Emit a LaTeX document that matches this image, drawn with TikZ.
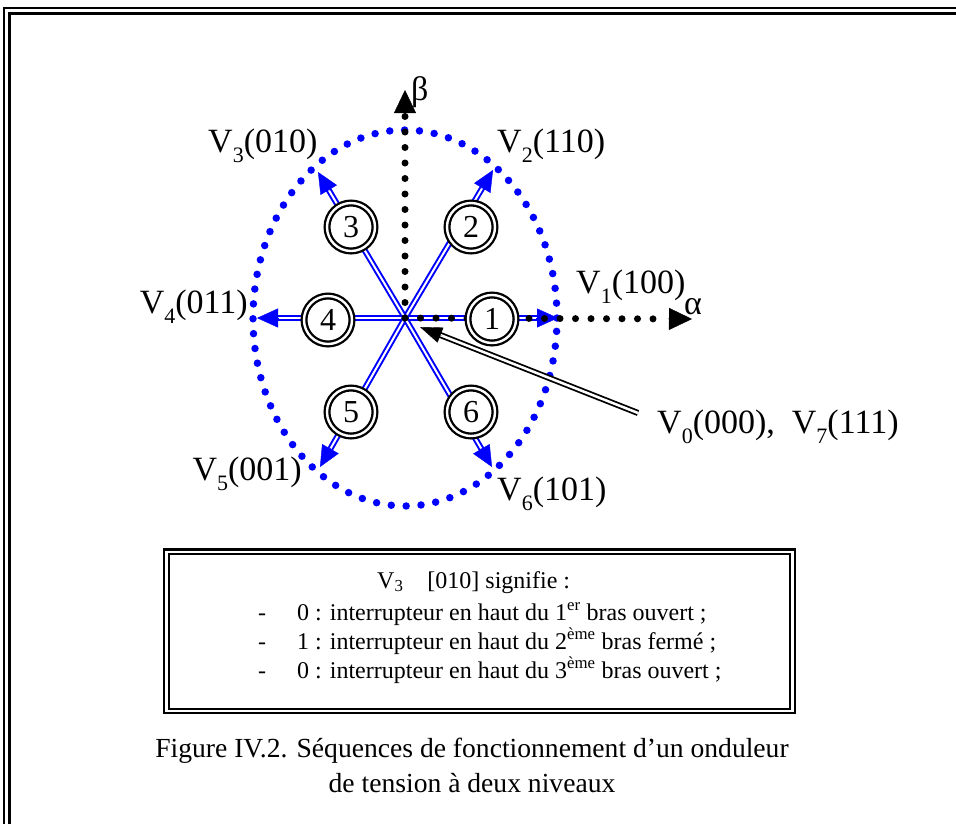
\documentclass[tikz,border=0pt]{standalone}
\usepackage{fontspec}
\setmainfont{Liberation Serif}
\usetikzlibrary{arrows.meta,calc}
\newcommand\vsub[1]{\raisebox{-0.32em}{\fontsize{22}{22}\selectfont #1}}
\begin{document}
\begin{tikzpicture}[x=1pt,y=-1pt,
  frameline/.style={line width=2.4pt, black},
  bdots/.style={blue, line width=7.5pt, line cap=round, dash pattern=on 0pt off 14.9pt},
  kdots/.style={black, line width=7pt, line cap=round, dash pattern=on 0pt off 15.5pt},
  bvec/.style={draw=blue, line width=2pt, double=white, double distance=2pt},
  kvec/.style={draw=black, line width=1.8pt, double=white, double distance=2.5pt},
  btip/.style={blue, line width=0.4pt, -{Triangle[length=21pt,width=19pt]}},
  ktip/.style={black, line width=0.4pt, -{Triangle[length=23pt,width=22pt]}},
  vtip/.style={black, line width=0.4pt, -{Triangle[length=22pt,width=16pt]}},
  numc/.style={circle, draw=black, line width=2.3pt, double=white, double distance=2.4pt, fill=white, minimum size=48pt, inner sep=0pt, font=\fontsize{32}{32}\selectfont},
  lab/.style={font=\fontsize{34}{34}\selectfont, inner sep=0pt},
  boxt/.style={font=\fontsize{24}{24}\selectfont, inner sep=0pt},
  capt/.style={font=\fontsize{27.6}{27.6}\selectfont, inner sep=0pt}
]
\useasboundingbox (0,0) rectangle (956,823);
\clip (0,0) rectangle (956,823);
% outer frame
\draw[frameline] (4,8) rectangle (1100,1000);
\draw[frameline] (9.5,13.5) rectangle (1090,990);
% coordinates
\coordinate (O) at (405,318);
\coordinate (t1) at (558,318);
\coordinate (t2) at (493,170);
\coordinate (t3) at (318,172);
\coordinate (t4) at (257,318);
\coordinate (t5) at (320,467);
\coordinate (t6) at (492,467);
\coordinate (atip) at (692,319);
\coordinate (btipc) at (405,90);
\coordinate (v0s) at (638,413);
\coordinate (v0t) at (420,327);
% ellipse
\draw[bdots] (O) ellipse [x radius=152pt, y radius=188pt];
% blue vectors
\foreach \t in {t1,t2,t3,t4,t5,t6}{
  \draw[bvec] (O) -- ($(\t)!17pt!(O)$);
  \draw[btip] ($(\t)!22pt!(O)$) -- (\t);
}
% axes
\draw[kdots] (O) -- ($(atip)!24pt!(O)$);
\draw[ktip] ($(atip)!24pt!(O)$) -- (atip);
\draw[kdots] (O) -- ($(btipc)!24pt!(O)$);
\draw[ktip] ($(btipc)!24pt!(O)$) -- (btipc);
% V0 arrow
\draw[kvec] (v0s) -- ($(v0t)!18pt!(v0s)$);
\draw[vtip] ($(v0t)!23pt!(v0s)$) -- (v0t);
% numbered circles
\node[numc] (c1) at (492,319) {1};
\node[numc] (c2) at (471,227) {2};
\node[numc] (c3) at (351,227) {3};
\node[numc] (c4) at (328,320) {4};
\node[numc] (c5) at (351,412) {5};
\node[numc] (c6) at (471,412) {6};
% labels
\node[lab, anchor=base west] (lb) at (411,100) {β};
\node[lab, anchor=base west] (la) at (684,314) {α};
\node[lab, anchor=base west] (l1) at (576,293) {V\vsub{1}(100)};
\node[lab, anchor=base west] (l2) at (497,152) {V\vsub{2}(110)};
\node[lab, anchor=base west] (l3) at (208,152) {V\vsub{3}(010)};
\node[lab, anchor=base east] (l4) at (248,313) {V\vsub{4}(011)};
\node[lab, anchor=base east] (l5) at (302,480) {V\vsub{5}(001)};
\node[lab, anchor=base west] (l6) at (497,500) {V\vsub{6}(101)};
\node[lab, anchor=base west] (l0) at (657,433) {V\vsub{0}(000), \ V\vsub{7}(111)};
% legend box
\draw[line width=2.6pt] (164,549.7) rectangle (795,712.9);
\draw[line width=2pt] (169,554.3) rectangle (790,708.5);
\node[boxt, anchor=base west] (b0) at (377,588) {V\textsubscript{3}\ \ \ \ [010] signifie :};
\node[boxt, anchor=base] (d1) at (262,620) {-};
\node[boxt, anchor=base west] (b1) at (297,620) {0 : interrupteur en haut du 1\textsuperscript{er} bras ouvert ;};
\node[boxt, anchor=base] (d2) at (262,649) {-};
\node[boxt, anchor=base west] (b2) at (297,649) {1 : interrupteur en haut du 2\textsuperscript{ème} bras fermé ;};
\node[boxt, anchor=base] (d3) at (262,678) {-};
\node[boxt, anchor=base west] (b3) at (297,678) {0 : interrupteur en haut du 3\textsuperscript{ème} bras ouvert ;};
% caption
\node[capt, anchor=base] (cap1) at (472,757) {Figure IV.2. Séquences de fonctionnement d’un onduleur};
\node[capt, anchor=base] (cap2) at (472,792) {de tension à deux niveaux};
\end{tikzpicture}
\end{document}
